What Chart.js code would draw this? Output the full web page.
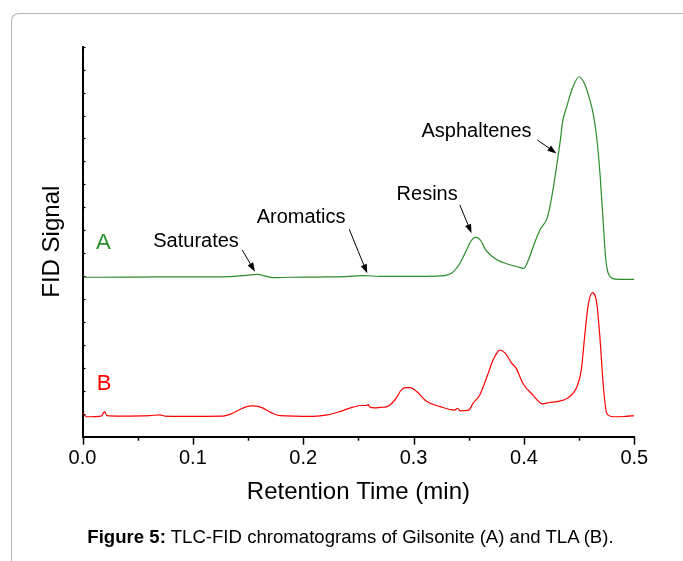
<!DOCTYPE html>
<html>
<head>
<meta charset="utf-8">
<script src="https://cdn.jsdelivr.net/npm/chart.js@4.4.0/dist/chart.umd.min.js"></script>
<style>
    body { margin: 0; background: #fff; font-family: "Liberation Sans", Arial, sans-serif; }
    #wrap { position: relative; width: 683px; height: 561px; overflow: hidden; }
    #frame {
        position: absolute; left: 11px; top: 13px; width: 800px; height: 700px;
        border-left: 1px solid #b4b4b4; border-top: 1px solid #b4b4b4;
        border-top-left-radius: 8px;
    }
    #chart { position: absolute; left: 0; top: 0; }
    #caption {
        position: absolute; left: 0; top: 527px; width: 701px; text-align: center;
        font-size: 18.6px; line-height: 20px; color: #000;
    }
</style>
</head>
<body>
<div id="wrap">
    <div id="frame"></div>
    <canvas id="chart" width="683" height="561"></canvas>
    <div id="caption"><b>Figure 5:</b> TLC-FID chromatograms of Gilsonite (A) and TLA (B).</div>
</div>
<script>
// --- 1. DATA (retention time in min, signal in arbitrary units) ---
const xTicks = [0.0, 0.1, 0.2, 0.3, 0.4, 0.5];

const timeA = [0.000, 0.003, 0.016, 0.052, 0.088, 0.125, 0.143, 0.152, 0.159, 0.165, 0.173, 0.188,
    0.215, 0.238, 0.254, 0.270, 0.306, 0.324, 0.335, 0.342, 0.348, 0.352, 0.356, 0.360, 0.366,
    0.376, 0.385, 0.394, 0.400, 0.404, 0.410, 0.415, 0.421, 0.424, 0.427, 0.430, 0.433, 0.435,
    0.439, 0.444, 0.450, 0.455, 0.460, 0.463, 0.466, 0.469, 0.472, 0.474, 0.476, 0.479, 0.483,
    0.491, 0.500];
const signalA = [7.03, 6.95, 6.95, 6.96, 6.97, 6.97, 7.01, 7.05, 7.08, 7.01, 6.93, 6.95,
    6.96, 6.98, 7.02, 6.99, 6.99, 7.01, 7.15, 7.56, 8.14, 8.53, 8.69, 8.60, 8.10,
    7.70, 7.53, 7.41, 7.34, 7.70, 8.49, 9.05, 9.53, 10.14, 10.97, 11.93, 12.93, 13.72,
    14.42, 15.20, 15.69, 15.37, 14.63, 14.02, 13.02, 11.41, 9.23, 7.79, 7.18, 6.94, 6.87,
    6.86, 6.86];

const timeB = [0.000, 0.004, 0.017, 0.020, 0.022, 0.034, 0.061, 0.070, 0.075, 0.088, 0.127, 0.136,
    0.145, 0.153, 0.162, 0.171, 0.179, 0.209, 0.222, 0.233, 0.245, 0.253, 0.257, 0.259, 0.260,
    0.265, 0.270, 0.276, 0.283, 0.289, 0.293, 0.297, 0.303, 0.312, 0.324, 0.337, 0.340, 0.342,
    0.350, 0.354, 0.360, 0.366, 0.372, 0.376, 0.378, 0.383, 0.389, 0.393, 0.399, 0.408, 0.417,
    0.423, 0.430, 0.439, 0.448, 0.452, 0.455, 0.458, 0.462, 0.466, 0.469, 0.472, 0.475, 0.481,
    0.491, 0.500];
const signalB = [1.02, 0.87, 0.90, 1.09, 0.92, 0.90, 0.92, 0.95, 0.90, 0.89, 0.90, 1.02,
    1.24, 1.34, 1.28, 1.05, 0.92, 0.89, 0.95, 1.09, 1.29, 1.36, 1.36, 1.40, 1.31,
    1.26, 1.28, 1.31, 1.60, 2.04, 2.14, 2.14, 1.96, 1.53, 1.31, 1.16, 1.24, 1.13,
    1.16, 1.46, 1.82, 2.55, 3.34, 3.69, 3.78, 3.64, 3.20, 2.98, 2.33, 1.82, 1.43,
    1.49, 1.53, 1.67, 2.18, 2.91, 4.36, 5.67, 6.28, 5.82, 4.22, 2.18, 1.02, 0.87,
    0.88, 0.92];

// --- 2. ANNOTATIONS (placed in data units) ---
const labelText  = ['A', 'B', 'Saturates', 'Aromatics', 'Resins', 'Asphaltenes'];
const labelX     = [0.0122, 0.0129, 0.0641, 0.1578, 0.2846, 0.3072];
const labelY     = [8.17, 2.04, 8.28, 9.30, 10.32, 13.05];
const labelColor = ['#2a8c2a', '#ff0000', '#000', '#000', '#000', '#000'];
const labelFont  = [22, 22, 20, 20, 20, 20];

const arrowFrom = [[0.1447, 8.14], [0.2417, 9.04], [0.3419, 10.10], [0.4123, 12.93]];
const arrowTo   = [[0.1563, 7.19], [0.2580, 7.12], [0.3525, 8.87], [0.4295, 12.35]];

const FONT = '"Liberation Sans", Arial, sans-serif';

// --- 3. PLUGIN: tick marks, labels and arrows ---
const extrasPlugin = {
    id: 'extras',
    afterDraw(chart) {
        const ctx = chart.ctx;
        const xs = chart.scales.x;
        const ys = chart.scales.y;
        const area = chart.chartArea;
        ctx.save();
        ctx.strokeStyle = '#000';
        ctx.lineWidth = 1.5;
        // x ticks: major every 0.1, minor every 0.05, pointing down
        for (let i = 0; i <= 10; i++) {
            const px = Math.round(xs.getPixelForValue(i * 0.05)) + 0.5;
            const len = i % 2 === 0 ? 8 : 4;
            ctx.beginPath();
            ctx.moveTo(px, area.bottom);
            ctx.lineTo(px, area.bottom + len);
            ctx.stroke();
        }
        // y ticks, short, pointing inside
        ctx.lineWidth = 1.2;
        for (let j = 0; j <= 17; j++) {
            const py = Math.round(ys.getPixelForValue(j)) + 0.5;
            ctx.beginPath();
            ctx.moveTo(area.left, py);
            ctx.lineTo(area.left + 3, py);
            ctx.stroke();
        }
        // text labels
        ctx.textAlign = 'left';
        ctx.textBaseline = 'alphabetic';
        labelText.forEach((t, i) => {
            ctx.fillStyle = labelColor[i];
            ctx.font = labelFont[i] + 'px ' + FONT;
            ctx.fillText(t, xs.getPixelForValue(labelX[i]), ys.getPixelForValue(labelY[i]));
        });
        // arrows
        ctx.strokeStyle = '#000';
        ctx.fillStyle = '#000';
        ctx.lineWidth = 1;
        arrowFrom.forEach((f, i) => {
            const x1 = xs.getPixelForValue(f[0]), y1 = ys.getPixelForValue(f[1]);
            const x2 = xs.getPixelForValue(arrowTo[i][0]), y2 = ys.getPixelForValue(arrowTo[i][1]);
            const ang = Math.atan2(y2 - y1, x2 - x1);
            const head = 9, half = 3.2;
            const bx = x2 - head * Math.cos(ang), by = y2 - head * Math.sin(ang);
            ctx.beginPath();
            ctx.moveTo(x1, y1);
            ctx.lineTo(bx, by);
            ctx.stroke();
            ctx.beginPath();
            ctx.moveTo(x2, y2);
            ctx.lineTo(bx + half * Math.sin(ang), by - half * Math.cos(ang));
            ctx.lineTo(bx - half * Math.sin(ang), by + half * Math.cos(ang));
            ctx.closePath();
            ctx.fill();
        });
        ctx.restore();
    }
};

// --- 4. CHART ---
const toPoints = (xs, ys) => xs.map((x, i) => ({ x: x, y: ys[i] }));

new Chart(document.getElementById('chart').getContext('2d'), {
    type: 'line',
    data: {
        datasets: [
            {
                label: 'A',
                data: toPoints(timeA, signalA),
                borderColor: '#2a8c2a',
                borderWidth: 1.2,
                pointRadius: 0,
                cubicInterpolationMode: 'monotone'
            },
            {
                label: 'B',
                data: toPoints(timeB, signalB),
                borderColor: '#ff0000',
                borderWidth: 1.2,
                pointRadius: 0,
                cubicInterpolationMode: 'monotone'
            }
        ]
    },
    options: {
        responsive: false,
        devicePixelRatio: 1,
        animation: false,
        layout: { padding: { top: 46.7, right: 48.7, left: 0, bottom: 0 } },
        plugins: { legend: { display: false }, tooltip: { enabled: false } },
        scales: {
            x: {
                type: 'linear',
                min: 0,
                max: 0.5,
                afterFit: (s) => { s.height = 561 - 436.7; },
                afterBuildTicks: (s) => { s.ticks = xTicks.map(v => ({ value: v })); },
                grid: { display: false, drawTicks: false },
                border: { display: true, color: '#000', width: 2 },
                ticks: {
                    padding: 10,
                    color: '#000',
                    font: { family: FONT, size: 20 },
                    callback: (v) => Number(v).toFixed(1)
                },
                title: {
                    display: true,
                    text: 'Retention Time (min)',
                    color: '#000',
                    font: { family: FONT, size: 24 },
                    padding: { top: 0, bottom: 54 }
                }
            },
            y: {
                min: 0,
                max: 17,
                afterFit: (s) => { s.width = 82.5; },
                grid: { display: false, drawTicks: false },
                border: { display: true, color: '#000', width: 2 },
                ticks: { display: false, stepSize: 1 },
                title: {
                    display: true,
                    text: 'FID Signal',
                    color: '#000',
                    font: { family: FONT, size: 24 },
                    padding: { top: 38, bottom: 0 }
                }
            }
        }
    },
    plugins: [extrasPlugin]
});
</script>
</body>
</html>
